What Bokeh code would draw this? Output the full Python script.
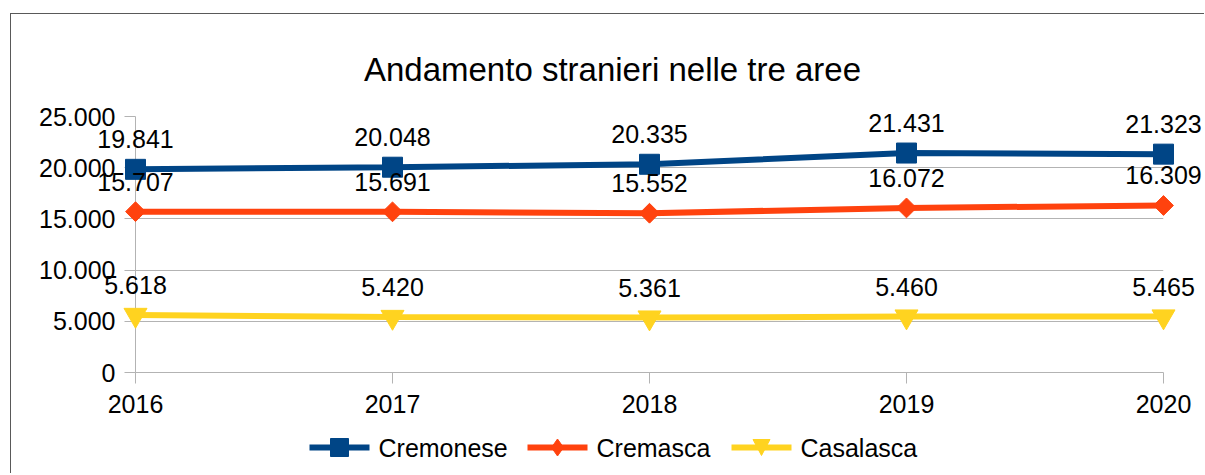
from bokeh.plotting import figure
from bokeh.models import Range1d, FixedTicker, ColumnDataSource
from bokeh.core.properties import value
from bokeh.embed import file_html
from bokeh.resources import INLINE
import math

# ---- data ----
years = [2016, 2017, 2018, 2019, 2020]
cremonese = [19841, 20048, 20335, 21431, 21323]
cremasca = [15707, 15691, 15552, 16072, 16309]
casalasca = [5618, 5420, 5361, 5460, 5465]
series_names = ["Cremonese", "Cremasca", "Casalasca"]
y_ticks = [0, 5000, 10000, 15000, 20000, 25000]
y_tick_labels = ["0", "5.000", "10.000", "15.000", "20.000", "25.000"]
title_text = "Andamento stranieri nelle tre aree"

# ---- styles / layout ----
FONT = "Liberation Sans"
GRID = "#b3b3b3"
colors = ["#004586", "#ff420e", "#ffd320"]
markers = ["square", "square", "inverted_triangle"]
angles = [0, math.pi / 4, 0]
msizes = [20, 14, 23]
# legend marker outlines, pixel offsets from the glyph centre (y downwards)
leg_shapes = [
    [(-9, -9), (9, -9), (9, 9), (-9, 9)],
    [(0, -8.5), (6, 0), (0, 8.5), (-6, 0)],
    [(-8.5, -8), (8.5, -8), (0, 8)],
]

W, H = 1194, 460
FRAME_L, FRAME_R, FRAME_T, FRAME_B = 135, 1163, 116, 372   # page pixels
CANVAS_X, CANVAS_Y = 11, 14


def x_of(px):
    return years[0] + (px - FRAME_L) * (years[-1] - years[0]) / (FRAME_R - FRAME_L)


def y_of(py):
    return y_ticks[0] + (FRAME_B - py) * (y_ticks[-1] - y_ticks[0]) / (FRAME_B - FRAME_T)


p = figure(width=W, height=H, output_backend="svg", toolbar_location=None,
           title_location=None,
           x_range=Range1d(years[0], years[-1]), y_range=Range1d(y_ticks[0], y_ticks[-1]))
p.margin = (13, 0, 0, 10)
p.styles = {"border-left": "1px solid #595959", "border-top": "1px solid #595959"}
p.min_border_left = FRAME_L - CANVAS_X
p.min_border_top = FRAME_T - CANVAS_Y
p.min_border_right = W - (FRAME_R - CANVAS_X)
p.min_border_bottom = H - (FRAME_B - CANVAS_Y)
p.outline_line_color = None
p.background_fill_color = "white"
p.border_fill_color = "white"

yt = FixedTicker(ticks=y_ticks)
p.yaxis.ticker = yt
p.ygrid.ticker = yt
p.xgrid.visible = False
p.ygrid.grid_line_color = GRID
p.ygrid.grid_line_width = 1
p.yaxis.major_label_overrides = {t: s for t, s in zip(y_ticks, y_tick_labels)}
p.xaxis.ticker = FixedTicker(ticks=years)
p.xaxis.major_label_overrides = {y: str(y) for y in years}

for ax, standoff in ((p.xaxis, 11), (p.yaxis, 9)):
    ax.axis_line_color = GRID
    ax.axis_line_width = 1
    ax.major_tick_line_color = GRID
    ax.major_tick_out = 11
    ax.major_tick_in = 0
    ax.minor_tick_line_color = None
    ax.major_label_text_font = FONT
    ax.major_label_text_font_size = "25px"
    ax.major_label_text_color = "black"
    ax.major_label_standoff = standoff

# ---- series ----
for vals, c, m, a, ms in zip([cremonese, cremasca, casalasca], colors, markers, angles, msizes):
    src = ColumnDataSource(dict(x=years, y=vals,
                                lab=[f"{v:,}".replace(",", ".") for v in vals]))
    p.text("x", "y", text="lab", source=src, text_align="center",
           text_baseline="alphabetic", y_offset=-30,
           text_font=value(FONT), text_font_size=value("25px"),
           text_color="black", level="overlay")
    p.line("x", "y", source=src, line_width=6, line_color=c, level="overlay")
    p.scatter("x", "y", source=src, marker=m, angle=a, size=ms, fill_color=c,
              line_color=c, level="overlay")

# ---- legend (below the plot, centred on the chart area) ----
LEG_Y = 447
LEG_X = [309, 527, 731]
GLYPH_W, LABEL_GAP = 60, 9
ly = y_of(LEG_Y)
p.segment(x0=[x_of(x) for x in LEG_X], y0=[ly] * 3,
          x1=[x_of(x + GLYPH_W) for x in LEG_X], y1=[ly] * 3,
          line_color=colors, line_width=6, level="overlay")
for x, c, shape in zip(LEG_X, colors, leg_shapes):
    cx = x + GLYPH_W / 2
    p.patch(x=[x_of(cx + dx) for dx, dy in shape], y=[y_of(LEG_Y + dy) for dx, dy in shape],
            fill_color=c, line_color=c, line_width=1, level="overlay")
p.text(x=[x_of(x + GLYPH_W + LABEL_GAP) for x in LEG_X], y=[ly] * 3, text=series_names,
       text_align="left", text_baseline="middle", text_font=value(FONT),
       text_font_size=value("25px"), text_color="black", level="overlay")

# ---- title, centred over the whole chart area ----
p.text(x=[x_of(612)], y=[y_of(69)], text=[title_text], text_align="center",
       text_baseline="alphabetic", text_font=value(FONT), text_font_size=value("33px"),
       text_color="black", level="overlay")

open("out.html", "w").write(file_html(p, INLINE))
